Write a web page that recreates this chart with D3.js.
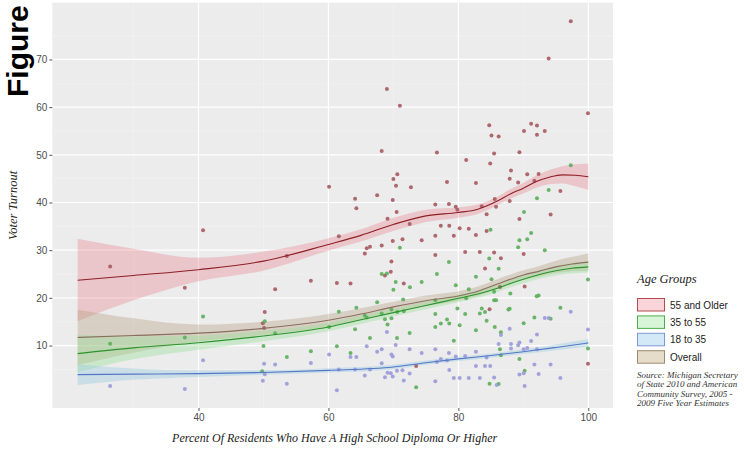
<!DOCTYPE html>
<html>
<head>
<meta charset="utf-8">
<script src="https://cdn.jsdelivr.net/npm/d3@7"></script>
<style>
  body { margin: 0; background: #ffffff; }
  svg { display: block; }
</style>
</head>
<body>
<svg id="chart" width="744" height="464"></svg>
<script>
// Turnout by county for each age group: [percent with HS diploma, turnout]
const older = [
  [26.4,26.6],[37.9,22.1],[40.7,34.2],[50.2,17.05],[49.9,14.7],[50.1,13.7],[51.8,21.8],[53.6,28.8],
  [57.3,23.6],[60.1,43.3],[61.3,23.1],[61.6,32.9],[63.4,23.0],[64.1,40.8],[64.3,38.8],[65.6,29.3],
  [65.9,30.4],[66.4,30.7],[67.5,41.5],[68.2,50.8],[68.2,31.0],[68.7,24.7],[69.0,63.8],[69.1,36.6],
  [69.7,27.6],[69.6,25.5],[69.9,40.5],[69.9,31.9],[70.0,44.9],[70.4,43.5],[70.6,45.9],[70.5,38.0],
  [71.0,60.3],[72.7,43.2],[71.4,32.3],[71.6,23.0],[72.5,35.5],[73.5,5.7],[74.35,32.1],[76.45,39.6],
  [76.45,33.0],[76.45,29.0],[76.7,50.5],[77.3,35.1],[78.25,44.3],[78.55,39.7],[78.6,35.1],[79.3,33.0],
  [79.6,39.1],[79.85,38.5],[80.2,34.6],[81.05,29.6],[81.2,48.9],[81.6,34.5],[82.7,44.1],[82.7,33.2],
  [83.3,29.6],[83.6,39.2],[84.1,26.15],[84.35,37.55],[84.35,34.0],[84.75,56.2],[84.9,48.2],[85.1,54.05],
  [85.5,50.3],[85.5,29.5],[85.6,40.75],[85.8,39.1],[86.2,53.85],[86.55,28.3],[86.4,22.3],[84.8,17.6],
  [87.9,45.0],[87.9,40.3],[88.1,46.7],[89.2,44.2],[89.4,50.55],[90.1,55.0],[90.6,45.9],[91.2,56.5],
  [92.1,56.15],[92.1,54.2],[93.3,55.0],[92.35,46.0],[91.7,44.55],[95.7,42.4],[94.2,37.5],[89.4,36.55],
  [90.05,29.2],[90.2,22.4],[97.3,78.0],[93.9,70.2],[99.95,58.7],[99.95,6.2]
];
const middle = [
  [26.4,10.4],[37.9,11.7],[40.7,16.1],[50.2,15.1],[50.0,9.9],[49.8,4.6],[51.8,12.6],[53.6,7.6],
  [57.3,8.8],[60.1,13.9],[61.3,9.85],[61.6,17.1],[63.4,8.45],[64.1,13.4],[64.3,17.9],[65.6,16.3],
  [65.9,15.9],[66.4,11.6],[67.5,19.1],[68.2,25.0],[68.2,16.7],[68.7,15.5],[69.0,25.1],[69.1,14.4],
  [69.7,15.7],[69.7,17.55],[70.35,23.3],[70.0,21.7],[70.55,11.6],[70.6,17.05],[71.0,30.5],[71.5,19.65],
  [71.6,17.2],[72.55,22.2],[72.5,12.65],[73.5,1.25],[74.35,23.3],[76.45,19.5],[76.45,16.6],[76.45,13.9],
  [76.7,25.0],[77.3,14.6],[78.25,15.45],[78.55,27.5],[78.6,14.6],[79.3,11.0],[79.6,22.65],[79.85,17.75],
  [80.2,14.25],[81.05,16.6],[81.2,19.9],[81.6,21.8],[82.7,24.4],[82.7,13.2],[83.3,16.7],[83.6,17.75],
  [84.1,17.05],[84.35,15.2],[84.75,28.25],[84.95,34.3],[85.1,23.9],[85.5,19.5],[85.5,21.3],[85.6,13.9],
  [85.8,19.5],[86.2,26.1],[86.4,9.2],[86.55,7.95],[86.55,12.8],[86.2,1.95],[84.8,2.0],[87.7,17.55],
  [97.3,47.8],[93.9,42.6],[92.1,40.9],[90.1,38.0],[89.4,32.1],[89.2,30.6],[90.6,32.3],[91.2,33.6],
  [93.3,30.0],[99.95,23.85],[88.0,20.9],[92.05,20.35],[92.35,20.5],[87.9,17.7],[90.05,14.7],[91.7,15.9],
  [94.2,15.6],[95.7,17.9],[89.4,7.2],[90.2,4.7],[99.95,9.4]
];
const younger = [
  [26.4,1.5],[37.9,0.9],[40.7,6.9],[50.1,6.2],[49.9,2.6],[50.2,4.0],[51.8,6.0],[53.6,2.0],
  [57.3,6.35],[60.1,8.1],[61.3,0.6],[61.6,5.0],[63.4,7.6],[64.1,5.0],[64.3,7.6],[65.6,3.7],
  [65.9,9.85],[66.4,5.0],[67.5,8.7],[68.2,9.2],[68.2,6.3],[68.7,3.35],[69.0,12.85],[69.1,4.3],
  [69.7,8.1],[69.6,4.2],[69.9,7.7],[69.9,3.5],[70.35,10.1],[70.55,4.7],[71.4,4.8],[71.6,2.65],
  [72.5,9.2],[72.5,4.15],[74.35,8.45],[76.45,9.2],[76.45,2.5],[76.7,6.55],[77.3,7.2],[78.25,6.85],
  [78.55,8.45],[78.6,4.85],[79.3,3.2],[79.6,7.7],[80.2,3.2],[81.05,7.8],[81.6,3.2],[82.7,8.7],
  [82.7,5.7],[83.3,3.2],[84.1,5.7],[84.35,7.5],[84.9,5.7],[85.5,3.3],[85.9,1.7],[86.2,10.3],
  [86.55,12.2],[97.3,17.1],[93.3,15.8],[93.9,15.8],[87.9,13.5],[88.1,10.3],[88.1,9.4],[89.2,10.06],
  [89.4,10.65],[90.05,9.2],[90.6,9.5],[91.2,10.96],[92.1,12.3],[92.1,9.2],[99.95,13.35],[91.7,6.0],
  [92.35,4.05],[94.2,6.0],[95.7,3.2],[89.4,3.9],[90.05,4.2],[90.2,1.5]
];

// Smoothed trends with confidence bands: [x, fit, lower, upper]
const olderFit = [
  [21.4,23.7,15.1,32.4],[30,24.7,19.5,30.3],[40,25.9,23.5,28.4],[50,27.7,25.7,29.7],
  [60,31.2,29.9,32.5],[65,33.1,31.8,34.4],[70,35.4,34.0,36.8],[75,37.2,35.9,38.5],
  [80,37.9,36.8,39.0],[83,38.6,37.6,39.6],[86,40.3,39.4,41.2],[88,41.8,40.8,42.8],
  [90,43.0,41.9,44.1],[92,44.4,43.1,45.7],[94,45.3,43.8,46.8],[96,45.8,44.0,47.6],
  [98,45.7,43.4,48.0],[100,45.4,42.6,48.2]
];
const overallFit = [
  [21.4,11.7,5.9,17.5],[30,12.1,8.5,15.7],[40,12.6,10.8,14.4],[50,13.6,12.2,15.0],
  [60,15.3,14.0,16.6],[65,16.6,15.4,17.8],[70,18.1,17.0,19.2],[75,19.4,18.3,20.5],
  [80,20.4,19.4,21.4],[83,21.4,20.4,22.4],[86,22.9,21.9,23.9],[88,23.9,22.9,24.9],
  [90,24.8,23.8,25.8],[92.5,25.6,24.5,26.7],[95,26.5,25.2,27.8],[97.5,27.1,25.6,28.6],
  [100,27.5,25.7,29.3]
];
const middleFit = [
  [21.4,8.3,4.4,12.2],[30,9.5,7.1,11.9],[40,10.6,9.1,12.1],[50,12.0,10.9,13.1],
  [60,13.9,13.0,14.8],[65,15.4,14.5,16.3],[70,16.9,16.1,17.7],[75,18.4,17.6,19.2],
  [80,19.9,19.1,20.7],[83,20.8,20.0,21.6],[86,22.0,21.2,22.8],[88,23.0,22.2,23.8],
  [90,23.9,23.0,24.8],[92.5,24.9,24.0,25.8],[95,25.7,24.7,26.7],[97.5,26.2,25.1,27.3],
  [100,26.5,25.3,27.7]
];
const youngerFit = [
  [21.4,3.9,1.7,6.1],[30,4.0,2.8,5.2],[40,4.1,3.4,4.8],[50,4.35,3.85,4.85],
  [60,4.8,4.35,5.25],[70,5.5,5.05,5.95],[75,6.4,5.95,6.85],[80,7.2,6.75,7.65],
  [85,7.9,7.45,8.35],[90,8.7,8.2,9.2],[95,9.6,9.0,10.2],[100,10.55,9.75,11.35]
];

const xTicks = [40, 60, 80, 100];
const yTicks = [10, 20, 30, 40, 50, 60, 70];
const xMinor = [30, 50, 70, 90];
const yMinor = [5, 15, 25, 35, 45, 55, 65, 75];
const legendLabels = ["55 and Older", "35 to 55", "18 to 35", "Overall"];
const sourceLines = [
  "Source: Michigan Secretary",
  "of State 2010 and American",
  "Community Survey, 2005 -",
  "2009 Five Year Estimates"
];

const styles = {
  older:   { point: "#a65a60", line: "#8e1f25", band: "#e8808c", key: "#f9d5d9", keyStroke: "#b24a52" },
  middle:  { point: "#5cae5c", line: "#2a932a", band: "#8fe08f", key: "#d9f5d9", keyStroke: "#4caf4c" },
  younger: { point: "#9a9ad8", line: "#5577c8", band: "#8cc6e0", key: "#d4e9f7", keyStroke: "#7f98d8" },
  overall: { line: "#8a6e5e", band: "#b39b78", key: "#e6dcca", keyStroke: "#9a8a72" }
};

const svg = d3.select("#chart");
const panel = { left: 52.3, right: 613, top: 2.7, bottom: 408 };

const x = d3.scaleLinear().domain([17.5, 103.8]).range([panel.left, panel.right]);
const y = d3.scaleLinear().domain([-3.1, 81.9]).range([panel.bottom, panel.top]);

// panel background
svg.append("rect")
  .attr("x", panel.left).attr("y", panel.top)
  .attr("width", panel.right - panel.left).attr("height", panel.bottom - panel.top)
  .attr("fill", "#ececec");

// grid
const grid = svg.append("g");
grid.selectAll(".xm").data(xMinor).join("line")
  .attr("x1", d => x(d)).attr("x2", d => x(d))
  .attr("y1", panel.top).attr("y2", panel.bottom)
  .attr("stroke", "#f3f3f3").attr("stroke-width", 0.6);
grid.selectAll(".ym").data(yMinor).join("line")
  .attr("y1", d => y(d)).attr("y2", d => y(d))
  .attr("x1", panel.left).attr("x2", panel.right)
  .attr("stroke", "#f3f3f3").attr("stroke-width", 0.6);
grid.selectAll(".xM").data(xTicks).join("line")
  .attr("x1", d => x(d)).attr("x2", d => x(d))
  .attr("y1", panel.top).attr("y2", panel.bottom)
  .attr("stroke", "#ffffff").attr("stroke-width", 1.2);
grid.selectAll(".yM").data(yTicks).join("line")
  .attr("y1", d => y(d)).attr("y2", d => y(d))
  .attr("x1", panel.left).attr("x2", panel.right)
  .attr("stroke", "#ffffff").attr("stroke-width", 1.2);

// axes
const xAxis = svg.append("g")
  .attr("transform", `translate(0,${panel.bottom})`)
  .call(d3.axisBottom(x).tickValues(xTicks).tickSize(3).tickPadding(3));
const yAxis = svg.append("g")
  .attr("transform", `translate(${panel.left},0)`)
  .call(d3.axisLeft(y).tickValues(yTicks).tickSize(3).tickPadding(2));
[xAxis, yAxis].forEach(a => {
  a.select(".domain").remove();
  a.selectAll(".tick line").attr("stroke", "#555");
  a.selectAll(".tick text")
    .attr("fill", "#4d4d4d")
    .style("font-family", "'Liberation Sans', Arial, sans-serif")
    .style("font-size", "10px");
});

// confidence bands
const area = d3.area()
  .x(d => x(d[0])).y0(d => y(d[2])).y1(d => y(d[3]))
  .curve(d3.curveMonotoneX);
const line = d3.line()
  .x(d => x(d[0])).y(d => y(d[1]))
  .curve(d3.curveMonotoneX);

const bands = [
  [olderFit, styles.older],
  [overallFit, styles.overall],
  [middleFit, styles.middle],
  [youngerFit, styles.younger]
];
const bandG = svg.append("g");
bands.forEach(([fit, st]) => {
  bandG.append("path").datum(fit)
    .attr("d", area)
    .attr("fill", st.band)
    .attr("fill-opacity", 0.35);
});

// points
const pts = svg.append("g");
[[older, styles.older], [middle, styles.middle], [younger, styles.younger]].forEach(([data, st]) => {
  pts.append("g").selectAll("circle").data(data).join("circle")
    .attr("cx", d => x(d[0])).attr("cy", d => y(d[1]))
    .attr("r", 2)
    .attr("fill", st.point)
    .attr("fill-opacity", 0.9);
});

// trend lines
bands.forEach(([fit, st]) => {
  svg.append("path").datum(fit)
    .attr("d", line)
    .attr("fill", "none")
    .attr("stroke", st.line)
    .attr("stroke-width", 1.1);
});

// axis titles
svg.append("text")
  .attr("x", (panel.left + panel.right) / 2 + 2).attr("y", 442)
  .attr("text-anchor", "middle")
  .style("font-family", "'Liberation Serif', 'Times New Roman', serif")
  .style("font-style", "italic")
  .style("font-size", "12px")
  .attr("fill", "#222")
  .text("Percent Of Residents Who Have A High School Diploma Or Higher");

svg.append("text")
  .attr("transform", `translate(17,${(panel.top + panel.bottom) / 2}) rotate(-90)`)
  .attr("text-anchor", "middle")
  .style("font-family", "'Liberation Serif', 'Times New Roman', serif")
  .style("font-style", "italic")
  .style("font-size", "12.5px")
  .attr("fill", "#222")
  .text("Voter Turnout");

// figure label
svg.append("text")
  .attr("transform", "translate(27.5,97) rotate(-90)")
  .style("font-family", "'Liberation Sans', Arial, sans-serif")
  .style("font-weight", "bold")
  .style("font-size", "30px")
  .attr("fill", "#000")
  .text("Figure");

// legend
const leg = svg.append("g").attr("transform", "translate(637,0)");
leg.append("text")
  .attr("x", 0).attr("y", 283)
  .style("font-family", "'Liberation Serif', 'Times New Roman', serif")
  .style("font-style", "italic")
  .style("font-size", "12.5px")
  .attr("fill", "#222")
  .text("Age Groups");
const keyStyles = [styles.older, styles.middle, styles.younger, styles.overall];
legendLabels.forEach((lab, i) => {
  const top = 298.5 + i * 17.4;
  leg.append("rect")
    .attr("x", 0.5).attr("y", top)
    .attr("width", 27).attr("height", 12.5)
    .attr("fill", keyStyles[i].key)
    .attr("stroke", keyStyles[i].keyStroke)
    .attr("stroke-width", 1);
  leg.append("text")
    .attr("x", 33).attr("y", top + 10)
    .style("font-family", "'Liberation Sans', Arial, sans-serif")
    .style("font-size", "10px")
    .attr("fill", "#222")
    .text(lab);
});
sourceLines.forEach((s, i) => {
  leg.append("text")
    .attr("x", 0).attr("y", 378 + i * 9.3)
    .style("font-family", "'Liberation Serif', 'Times New Roman', serif")
    .style("font-style", "italic")
    .style("font-size", "9px")
    .attr("fill", "#333")
    .text(s);
});
</script>
</body>
</html>
